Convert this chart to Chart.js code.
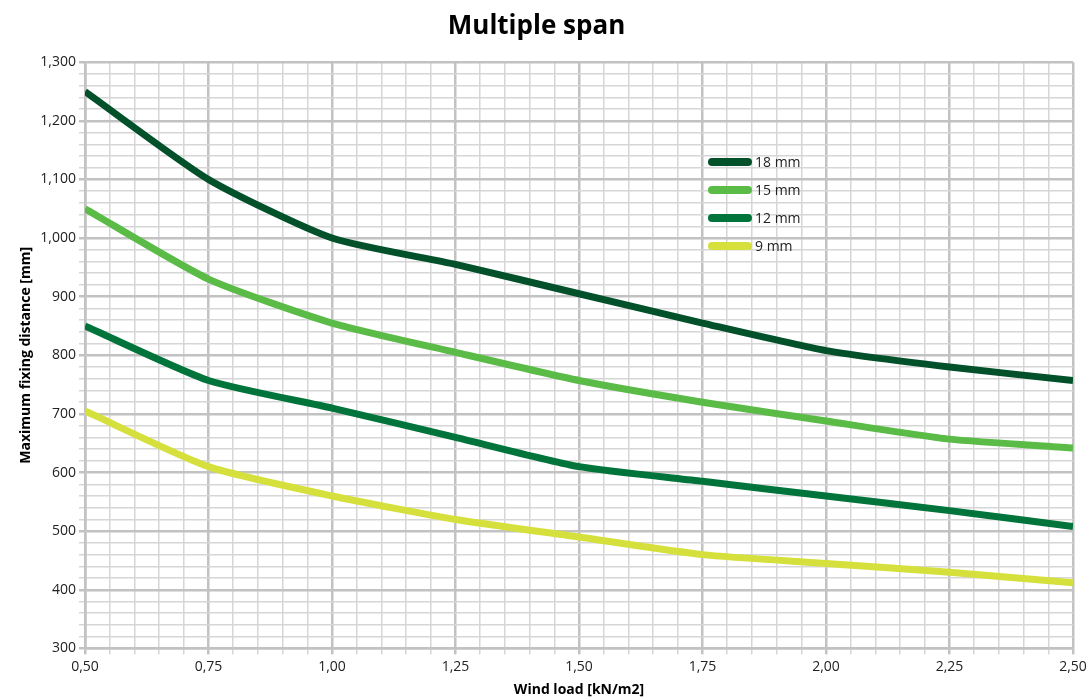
<!DOCTYPE html>
<html>
<head>
<meta charset="utf-8">
<script src="https://cdn.jsdelivr.net/npm/chart.js@4"></script>
<style>
  html, body { margin: 0; padding: 0; background: #fff; }
  #wrap { width: 1092px; height: 700px; }
</style>
</head>
<body>
<div id="wrap"><canvas id="myChart" width="1092" height="700"></canvas></div>
<script>
var windLoad = [0.5, 0.75, 1.0, 1.25, 1.5, 1.75, 2.0, 2.25, 2.5];
var span18 = [1250, 1100, 1000, 955, 905, 855, 808, 780, 757];
var span15 = [1050, 930, 855, 805, 757, 720, 688, 657, 642];
var span12 = [850, 757, 710, 660, 610, 585, 560, 535, 508];
var span9 = [705, 610, 560, 520, 490, 460, 445, 430, 412];
var seriesLabels = ['18 mm', '15 mm', '12 mm', '9 mm'];
var seriesColors = ['#03512b', '#5bbb47', '#00743a', '#d6e03c'];

function toPoints(vals) {
  return vals.map(function (v, i) { return { x: windLoad[i], y: v }; });
}

var allSeries = [span18, span15, span12, span9];
var datasets = allSeries.map(function (vals, i) {
  return {
    label: seriesLabels[i],
    data: toPoints(vals),
    borderColor: seriesColors[i],
    backgroundColor: seriesColors[i],
    borderWidth: 7,
    pointRadius: 0,
    fill: false,
    tension: 0.2,
    borderCapStyle: 'butt'
  };
});

function isMajorX(v) { return Math.abs(v * 4 - Math.round(v * 4)) < 1e-6; }
function isMajorY(v) { return Math.round(v) % 100 === 0; }

var legendPlugin = {
  id: 'innerLegend',
  afterDatasetsDraw: function (chart) {
    var ctx = chart.ctx;
    ctx.save();
    chart.data.datasets.forEach(function (ds, i) {
      var y = 162 + i * 28;
      ctx.strokeStyle = ds.borderColor;
      ctx.lineWidth = 8;
      ctx.lineCap = 'round';
      ctx.beginPath();
      ctx.moveTo(712, y);
      ctx.lineTo(748, y);
      ctx.stroke();
      ctx.fillStyle = '#222';
      ctx.font = '14px "Open Sans"';
      ctx.textBaseline = 'middle';
      ctx.fillText(ds.label, 755, y + 1);
    });
    ctx.restore();
  }
};

var ctx = document.getElementById('myChart').getContext('2d');
var myChart = new Chart(ctx, {
  type: 'line',
  data: { datasets: datasets },
  plugins: [legendPlugin],
  options: {
    responsive: false,
    animation: false,
    layout: { padding: { left: 0, right: 19, top: 0, bottom: 2 } },
    plugins: {
      legend: { display: false },
      tooltip: { enabled: false },
      title: {
        display: true,
        text: 'Multiple span',
        color: '#000',
        font: { family: '"Open Sans"', size: 26, weight: 'bold' },
        padding: { top: 11, bottom: 20 }
      }
    },
    scales: {
      x: {
        type: 'linear',
        min: 0.5,
        max: 2.5,
        ticks: {
          stepSize: 0.05,
          autoSkip: false,
          maxRotation: 0,
          color: '#222',
          font: { family: '"Open Sans"', size: 14 },
          padding: 4,
          callback: function (v) {
            return isMajorX(v) ? v.toFixed(2).replace('.', ',') : '';
          }
        },
        grid: {
          color: function (c) { return isMajorX(c.tick.value) ? '#c2c2c2' : '#d6d6d6'; },
          lineWidth: function (c) { return isMajorX(c.tick.value) ? 2.5 : 1.5; },
          tickLength: 6
        },
        border: { color: '#c2c2c2', width: 2.5 },
        title: {
          display: true,
          text: 'Wind load [kN/m2]',
          color: '#000',
          font: { family: '"Open Sans"', size: 14, weight: 'bold' },
          padding: { top: 2, bottom: 0 }
        }
      },
      y: {
        min: 300,
        max: 1300,
        afterFit: function (scale) { scale.width = 85; },
        ticks: {
          stepSize: 20,
          autoSkip: false,
          color: '#222',
          font: { family: '"Open Sans"', size: 14 },
          padding: 3,
          callback: function (v) {
            return isMajorY(v) ? v.toLocaleString('en-US') : '';
          }
        },
        grid: {
          color: function (c) { return isMajorY(c.tick.value) ? '#c2c2c2' : '#d6d6d6'; },
          lineWidth: function (c) { return isMajorY(c.tick.value) ? 2.5 : 1.5; },
          tickLength: 6
        },
        border: { color: '#c2c2c2', width: 2.5 },
        title: {
          display: true,
          text: 'Maximum fixing distance [mm]',
          color: '#000',
          font: { family: '"Open Sans"', size: 14, weight: 'bold' },
          padding: { top: 18, bottom: 2 }
        }
      }
    }
  }
});
</script>
</body>
</html>
